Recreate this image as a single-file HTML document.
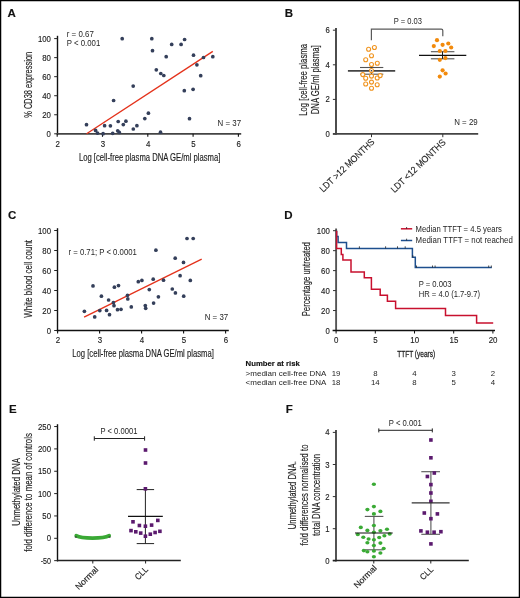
<!DOCTYPE html>
<html><head><meta charset="utf-8"><style>
html,body{margin:0;padding:0;background:#fff;}
#fig{display:block;width:520px;height:598px;will-change:transform;}
text{font-family:"Liberation Sans",sans-serif;stroke:#1e1e1e;stroke-width:0.15px;}
text.n{stroke:none;}
text.m{stroke-width:0.3px;}
</style></head><body>
<svg id="fig" width="520" height="598" viewBox="0 0 520 598">
<rect x="0" y="0" width="520" height="598" fill="#fff"/>
<rect x="0.6" y="0.6" width="518.8" height="596.8" fill="none" stroke="#000" stroke-width="1.3"/>
<text x="7.60" y="17.10" font-size="11.5" font-weight="bold" fill="#111">A</text>
<text x="284.80" y="17.30" font-size="11.5" font-weight="bold" fill="#111">B</text>
<text x="8.00" y="219.20" font-size="11.5" font-weight="bold" fill="#111">C</text>
<text x="284.30" y="219.20" font-size="11.5" font-weight="bold" fill="#111">D</text>
<text x="8.90" y="412.70" font-size="11.5" font-weight="bold" fill="#111">E</text>
<text x="285.70" y="412.70" font-size="11.5" font-weight="bold" fill="#111">F</text>
<line x1="57.50" y1="35.80" x2="57.50" y2="134.60" stroke="#111" stroke-width="1.4"/>
<line x1="54.20" y1="133.80" x2="57.50" y2="133.80" stroke="#222" stroke-width="1"/>
<text x="50.90" y="136.80" font-size="9.1" textLength="4.30" lengthAdjust="spacingAndGlyphs" text-anchor="end" fill="#1e1e1e">0</text>
<line x1="54.20" y1="114.76" x2="57.50" y2="114.76" stroke="#222" stroke-width="1"/>
<text x="50.90" y="117.76" font-size="9.1" textLength="8.70" lengthAdjust="spacingAndGlyphs" text-anchor="end" fill="#1e1e1e">20</text>
<line x1="54.20" y1="95.72" x2="57.50" y2="95.72" stroke="#222" stroke-width="1"/>
<text x="50.90" y="98.72" font-size="9.1" textLength="8.70" lengthAdjust="spacingAndGlyphs" text-anchor="end" fill="#1e1e1e">40</text>
<line x1="54.20" y1="76.68" x2="57.50" y2="76.68" stroke="#222" stroke-width="1"/>
<text x="50.90" y="79.68" font-size="9.1" textLength="8.70" lengthAdjust="spacingAndGlyphs" text-anchor="end" fill="#1e1e1e">60</text>
<line x1="54.20" y1="57.64" x2="57.50" y2="57.64" stroke="#222" stroke-width="1"/>
<text x="50.90" y="60.64" font-size="9.1" textLength="8.70" lengthAdjust="spacingAndGlyphs" text-anchor="end" fill="#1e1e1e">80</text>
<line x1="54.20" y1="38.60" x2="57.50" y2="38.60" stroke="#222" stroke-width="1"/>
<text x="50.90" y="41.60" font-size="9.1" textLength="13.00" lengthAdjust="spacingAndGlyphs" text-anchor="end" fill="#1e1e1e">100</text>
<line x1="56.80" y1="133.80" x2="241.20" y2="133.80" stroke="#444" stroke-width="1.7"/>
<line x1="57.20" y1="133.80" x2="57.20" y2="136.80" stroke="#111" stroke-width="1.1"/>
<text x="57.60" y="147.40" font-size="9.1" textLength="4.40" lengthAdjust="spacingAndGlyphs" text-anchor="middle" fill="#1e1e1e">2</text>
<line x1="102.50" y1="133.80" x2="102.50" y2="136.80" stroke="#111" stroke-width="1.1"/>
<text x="102.90" y="147.40" font-size="9.1" textLength="4.40" lengthAdjust="spacingAndGlyphs" text-anchor="middle" fill="#1e1e1e">3</text>
<line x1="147.80" y1="133.80" x2="147.80" y2="136.80" stroke="#111" stroke-width="1.1"/>
<text x="148.20" y="147.40" font-size="9.1" textLength="4.40" lengthAdjust="spacingAndGlyphs" text-anchor="middle" fill="#1e1e1e">4</text>
<line x1="193.10" y1="133.80" x2="193.10" y2="136.80" stroke="#111" stroke-width="1.1"/>
<text x="193.50" y="147.40" font-size="9.1" textLength="4.40" lengthAdjust="spacingAndGlyphs" text-anchor="middle" fill="#1e1e1e">5</text>
<line x1="238.40" y1="133.80" x2="238.40" y2="136.80" stroke="#111" stroke-width="1.1"/>
<text x="238.80" y="147.40" font-size="9.1" textLength="4.40" lengthAdjust="spacingAndGlyphs" text-anchor="middle" fill="#1e1e1e">6</text>
<text x="78.90" y="160.70" font-size="10.2" textLength="141.50" lengthAdjust="spacingAndGlyphs" fill="#1e1e1e">Log [cell-free plasma DNA GE/ml plasma]</text>
<text x="0.00" y="0.00" font-size="10.8" textLength="66.00" lengthAdjust="spacingAndGlyphs" text-anchor="middle" fill="#1e1e1e" transform="translate(31.80,84.80) rotate(-90)">% CD38 expression</text>
<text x="66.80" y="36.60" font-size="8.6" class="n" textLength="27.00" lengthAdjust="spacingAndGlyphs" fill="#1e1e1e">r = 0.67</text>
<text x="66.80" y="45.90" font-size="8.6" class="n" textLength="33.50" lengthAdjust="spacingAndGlyphs" fill="#1e1e1e">P &lt; 0.001</text>
<text x="217.60" y="125.80" font-size="8.8" class="n" textLength="23.50" lengthAdjust="spacingAndGlyphs" fill="#1e1e1e">N = 37</text>
<line x1="86.60" y1="133.80" x2="212.80" y2="51.40" stroke="#e4321b" stroke-width="1.35"/>
<circle cx="122.20" cy="38.70" r="1.85" fill="#343f5a"/>
<circle cx="151.80" cy="38.70" r="1.85" fill="#343f5a"/>
<circle cx="184.60" cy="39.50" r="1.85" fill="#343f5a"/>
<circle cx="171.70" cy="44.40" r="1.85" fill="#343f5a"/>
<circle cx="181.10" cy="44.40" r="1.85" fill="#343f5a"/>
<circle cx="152.50" cy="50.70" r="1.85" fill="#343f5a"/>
<circle cx="166.20" cy="56.70" r="1.85" fill="#343f5a"/>
<circle cx="193.50" cy="55.20" r="1.85" fill="#343f5a"/>
<circle cx="196.90" cy="64.80" r="1.85" fill="#343f5a"/>
<circle cx="156.30" cy="69.80" r="1.85" fill="#343f5a"/>
<circle cx="160.80" cy="73.50" r="1.85" fill="#343f5a"/>
<circle cx="163.80" cy="75.50" r="1.85" fill="#343f5a"/>
<circle cx="133.20" cy="86.10" r="1.85" fill="#343f5a"/>
<circle cx="184.30" cy="90.70" r="1.85" fill="#343f5a"/>
<circle cx="193.10" cy="89.30" r="1.85" fill="#343f5a"/>
<circle cx="203.50" cy="57.50" r="1.85" fill="#343f5a"/>
<circle cx="212.80" cy="56.70" r="1.85" fill="#343f5a"/>
<circle cx="200.70" cy="75.70" r="1.85" fill="#343f5a"/>
<circle cx="189.50" cy="118.70" r="1.85" fill="#343f5a"/>
<circle cx="160.50" cy="132.20" r="1.85" fill="#343f5a"/>
<circle cx="144.80" cy="118.60" r="1.85" fill="#343f5a"/>
<circle cx="148.40" cy="113.20" r="1.85" fill="#343f5a"/>
<circle cx="86.50" cy="124.70" r="1.85" fill="#343f5a"/>
<circle cx="113.60" cy="100.50" r="1.85" fill="#343f5a"/>
<circle cx="95.60" cy="130.40" r="1.85" fill="#343f5a"/>
<circle cx="97.50" cy="133.10" r="1.85" fill="#343f5a"/>
<circle cx="103.10" cy="133.70" r="1.85" fill="#343f5a"/>
<circle cx="104.60" cy="125.70" r="1.85" fill="#343f5a"/>
<circle cx="110.40" cy="125.80" r="1.85" fill="#343f5a"/>
<circle cx="112.70" cy="133.30" r="1.85" fill="#343f5a"/>
<circle cx="117.70" cy="130.80" r="1.85" fill="#343f5a"/>
<circle cx="119.30" cy="132.40" r="1.85" fill="#343f5a"/>
<circle cx="118.20" cy="121.50" r="1.85" fill="#343f5a"/>
<circle cx="123.30" cy="124.60" r="1.85" fill="#343f5a"/>
<circle cx="125.90" cy="121.20" r="1.85" fill="#343f5a"/>
<circle cx="133.30" cy="129.00" r="1.85" fill="#343f5a"/>
<circle cx="136.90" cy="125.70" r="1.85" fill="#343f5a"/>
<line x1="336.00" y1="27.90" x2="336.00" y2="134.70" stroke="#444" stroke-width="1.9"/>
<line x1="332.90" y1="134.00" x2="335.80" y2="134.00" stroke="#333" stroke-width="1"/>
<text x="329.80" y="137.00" font-size="9.1" textLength="4.30" lengthAdjust="spacingAndGlyphs" text-anchor="end" fill="#1e1e1e">0</text>
<line x1="332.90" y1="99.40" x2="335.80" y2="99.40" stroke="#333" stroke-width="1"/>
<text x="329.80" y="102.40" font-size="9.1" textLength="4.30" lengthAdjust="spacingAndGlyphs" text-anchor="end" fill="#1e1e1e">2</text>
<line x1="332.90" y1="64.80" x2="335.80" y2="64.80" stroke="#333" stroke-width="1"/>
<text x="329.80" y="67.80" font-size="9.1" textLength="4.30" lengthAdjust="spacingAndGlyphs" text-anchor="end" fill="#1e1e1e">4</text>
<line x1="332.90" y1="30.20" x2="335.80" y2="30.20" stroke="#333" stroke-width="1"/>
<text x="329.80" y="33.20" font-size="9.1" textLength="4.30" lengthAdjust="spacingAndGlyphs" text-anchor="end" fill="#1e1e1e">6</text>
<line x1="332.90" y1="133.90" x2="478.20" y2="133.90" stroke="#444" stroke-width="1.7"/>
<line x1="371.50" y1="134.00" x2="371.50" y2="137.20" stroke="#333" stroke-width="1"/>
<line x1="442.80" y1="134.00" x2="442.80" y2="137.20" stroke="#333" stroke-width="1"/>
<path d="M371.4,40.2 V29.1 H441.3 Q442.8,29.1 442.8,30.6 V36.2" fill="none" stroke="#5a5a5a" stroke-width="1.2"/>
<text x="393.80" y="23.70" font-size="8.5" class="n" textLength="28.20" lengthAdjust="spacingAndGlyphs" fill="#1e1e1e">P = 0.03</text>
<line x1="360.00" y1="67.50" x2="383.30" y2="67.50" stroke="#555" stroke-width="1.1"/>
<line x1="360.00" y1="74.20" x2="383.30" y2="74.20" stroke="#555" stroke-width="1.1"/>
<line x1="371.50" y1="67.50" x2="371.50" y2="74.20" stroke="#333" stroke-width="1"/>
<circle cx="368.60" cy="49.20" r="2.0" fill="#fff" stroke="#f0941f" stroke-width="1.1"/>
<circle cx="374.40" cy="47.50" r="2.0" fill="#fff" stroke="#f0941f" stroke-width="1.1"/>
<circle cx="371.50" cy="55.80" r="2.0" fill="#fff" stroke="#f0941f" stroke-width="1.1"/>
<circle cx="365.70" cy="59.80" r="2.0" fill="#fff" stroke="#f0941f" stroke-width="1.1"/>
<circle cx="371.50" cy="64.50" r="2.0" fill="#fff" stroke="#f0941f" stroke-width="1.1"/>
<circle cx="377.30" cy="63.20" r="2.0" fill="#fff" stroke="#f0941f" stroke-width="1.1"/>
<circle cx="362.80" cy="74.60" r="2.0" fill="#fff" stroke="#f0941f" stroke-width="1.1"/>
<circle cx="365.70" cy="78.30" r="2.0" fill="#fff" stroke="#f0941f" stroke-width="1.1"/>
<circle cx="371.50" cy="76.10" r="2.0" fill="#fff" stroke="#f0941f" stroke-width="1.1"/>
<circle cx="377.20" cy="78.00" r="2.0" fill="#fff" stroke="#f0941f" stroke-width="1.1"/>
<circle cx="380.20" cy="75.60" r="2.0" fill="#fff" stroke="#f0941f" stroke-width="1.1"/>
<circle cx="371.50" cy="82.10" r="2.0" fill="#fff" stroke="#f0941f" stroke-width="1.1"/>
<circle cx="365.70" cy="84.00" r="2.0" fill="#fff" stroke="#f0941f" stroke-width="1.1"/>
<circle cx="377.20" cy="84.80" r="2.0" fill="#fff" stroke="#f0941f" stroke-width="1.1"/>
<circle cx="371.50" cy="88.30" r="2.0" fill="#fff" stroke="#f0941f" stroke-width="1.1"/>
<line x1="347.90" y1="70.90" x2="395.20" y2="70.90" stroke="#444" stroke-width="1.7"/>
<circle cx="371.50" cy="70.50" r="2.0" fill="#fff" stroke="#f0941f" stroke-width="1.1"/>
<circle cx="371.50" cy="70.70" r="0.8" fill="#333"/>
<line x1="430.90" y1="51.70" x2="454.40" y2="51.70" stroke="#555" stroke-width="1.1"/>
<line x1="430.90" y1="58.80" x2="454.40" y2="58.80" stroke="#555" stroke-width="1.1"/>
<circle cx="437.00" cy="40.20" r="2.1" fill="#f28a0c"/>
<circle cx="433.80" cy="46.10" r="2.1" fill="#f28a0c"/>
<circle cx="442.60" cy="44.80" r="2.1" fill="#f28a0c"/>
<circle cx="448.30" cy="43.50" r="2.1" fill="#f28a0c"/>
<circle cx="451.20" cy="47.50" r="2.1" fill="#f28a0c"/>
<circle cx="439.80" cy="51.00" r="2.1" fill="#f28a0c"/>
<circle cx="445.40" cy="51.00" r="2.1" fill="#f28a0c"/>
<circle cx="445.40" cy="58.10" r="2.1" fill="#f28a0c"/>
<circle cx="439.80" cy="59.80" r="2.1" fill="#f28a0c"/>
<circle cx="442.60" cy="70.30" r="2.1" fill="#f28a0c"/>
<circle cx="445.60" cy="73.50" r="2.1" fill="#f28a0c"/>
<circle cx="439.80" cy="76.60" r="2.1" fill="#f28a0c"/>
<line x1="442.50" y1="51.70" x2="442.50" y2="58.80" stroke="#222" stroke-width="1"/>
<line x1="419.00" y1="55.30" x2="466.30" y2="55.30" stroke="#111" stroke-width="1.2"/>
<text x="454.20" y="125.20" font-size="8.8" class="n" textLength="23.50" lengthAdjust="spacingAndGlyphs" fill="#1e1e1e">N = 29</text>
<text x="0.00" y="0.00" font-size="10.2" textLength="71.80" lengthAdjust="spacingAndGlyphs" text-anchor="middle" fill="#1e1e1e" transform="translate(307.00,79.90) rotate(-90)">Log [cell-free plasma</text>
<text x="0.00" y="0.00" font-size="10.2" textLength="68.90" lengthAdjust="spacingAndGlyphs" text-anchor="middle" fill="#1e1e1e" transform="translate(318.70,79.80) rotate(-90)">DNA GE/ml plasma]</text>
<text x="0.00" y="0.00" font-size="9.4" textLength="72.30" lengthAdjust="spacingAndGlyphs" text-anchor="end" fill="#1e1e1e" transform="translate(375.2,142.6) rotate(-44)">LDT &gt;12 MONTHS</text>
<text x="0.00" y="0.00" font-size="9.4" textLength="72.30" lengthAdjust="spacingAndGlyphs" text-anchor="end" fill="#1e1e1e" transform="translate(446.4,143.0) rotate(-44)">LDT &lt;12 MONTHS</text>
<line x1="57.50" y1="228.20" x2="57.50" y2="331.30" stroke="#111" stroke-width="1.4"/>
<line x1="54.20" y1="330.50" x2="57.50" y2="330.50" stroke="#222" stroke-width="1"/>
<text x="51.00" y="333.50" font-size="9.1" textLength="4.30" lengthAdjust="spacingAndGlyphs" text-anchor="end" fill="#1e1e1e">0</text>
<line x1="54.20" y1="310.50" x2="57.50" y2="310.50" stroke="#222" stroke-width="1"/>
<text x="51.00" y="313.50" font-size="9.1" textLength="8.70" lengthAdjust="spacingAndGlyphs" text-anchor="end" fill="#1e1e1e">20</text>
<line x1="54.20" y1="290.50" x2="57.50" y2="290.50" stroke="#222" stroke-width="1"/>
<text x="51.00" y="293.50" font-size="9.1" textLength="8.70" lengthAdjust="spacingAndGlyphs" text-anchor="end" fill="#1e1e1e">40</text>
<line x1="54.20" y1="270.50" x2="57.50" y2="270.50" stroke="#222" stroke-width="1"/>
<text x="51.00" y="273.50" font-size="9.1" textLength="8.70" lengthAdjust="spacingAndGlyphs" text-anchor="end" fill="#1e1e1e">60</text>
<line x1="54.20" y1="250.50" x2="57.50" y2="250.50" stroke="#222" stroke-width="1"/>
<text x="51.00" y="253.50" font-size="9.1" textLength="8.70" lengthAdjust="spacingAndGlyphs" text-anchor="end" fill="#1e1e1e">80</text>
<line x1="54.20" y1="230.50" x2="57.50" y2="230.50" stroke="#222" stroke-width="1"/>
<text x="51.00" y="233.50" font-size="9.1" textLength="13.00" lengthAdjust="spacingAndGlyphs" text-anchor="end" fill="#1e1e1e">100</text>
<line x1="56.80" y1="330.50" x2="228.80" y2="330.50" stroke="#111" stroke-width="1.5"/>
<line x1="57.60" y1="330.50" x2="57.60" y2="333.60" stroke="#111" stroke-width="1.1"/>
<text x="57.90" y="343.30" font-size="9.3" textLength="4.40" lengthAdjust="spacingAndGlyphs" text-anchor="middle" fill="#1e1e1e">2</text>
<line x1="99.60" y1="330.50" x2="99.60" y2="333.60" stroke="#111" stroke-width="1.1"/>
<text x="99.90" y="343.30" font-size="9.3" textLength="4.40" lengthAdjust="spacingAndGlyphs" text-anchor="middle" fill="#1e1e1e">3</text>
<line x1="141.60" y1="330.50" x2="141.60" y2="333.60" stroke="#111" stroke-width="1.1"/>
<text x="141.90" y="343.30" font-size="9.3" textLength="4.40" lengthAdjust="spacingAndGlyphs" text-anchor="middle" fill="#1e1e1e">4</text>
<line x1="183.60" y1="330.50" x2="183.60" y2="333.60" stroke="#111" stroke-width="1.1"/>
<text x="183.90" y="343.30" font-size="9.3" textLength="4.40" lengthAdjust="spacingAndGlyphs" text-anchor="middle" fill="#1e1e1e">5</text>
<line x1="225.60" y1="330.50" x2="225.60" y2="333.60" stroke="#111" stroke-width="1.1"/>
<text x="225.90" y="343.30" font-size="9.3" textLength="4.40" lengthAdjust="spacingAndGlyphs" text-anchor="middle" fill="#1e1e1e">6</text>
<text x="72.30" y="357.20" font-size="10.3" textLength="141.50" lengthAdjust="spacingAndGlyphs" fill="#1e1e1e">Log [cell-free plasma DNA GE/ml plasma]</text>
<text x="0.00" y="0.00" font-size="11.1" textLength="77.70" lengthAdjust="spacingAndGlyphs" text-anchor="middle" fill="#1e1e1e" transform="translate(32.10,278.80) rotate(-90)">White blood cell count</text>
<text x="68.50" y="254.80" font-size="8.6" class="n" textLength="68.30" lengthAdjust="spacingAndGlyphs" fill="#1e1e1e">r = 0.71; P &lt; 0.0001</text>
<text x="204.70" y="319.80" font-size="8.8" class="n" textLength="23.50" lengthAdjust="spacingAndGlyphs" fill="#1e1e1e">N = 37</text>
<line x1="84.10" y1="317.20" x2="201.70" y2="259.10" stroke="#e4321b" stroke-width="1.3"/>
<circle cx="84.40" cy="311.30" r="1.85" fill="#343f5a"/>
<circle cx="93.00" cy="285.90" r="1.85" fill="#343f5a"/>
<circle cx="94.70" cy="316.90" r="1.85" fill="#343f5a"/>
<circle cx="99.80" cy="310.60" r="1.85" fill="#343f5a"/>
<circle cx="101.40" cy="296.20" r="1.85" fill="#343f5a"/>
<circle cx="106.60" cy="310.40" r="1.85" fill="#343f5a"/>
<circle cx="108.60" cy="300.00" r="1.85" fill="#343f5a"/>
<circle cx="109.50" cy="314.70" r="1.85" fill="#343f5a"/>
<circle cx="113.40" cy="302.60" r="1.85" fill="#343f5a"/>
<circle cx="114.00" cy="305.70" r="1.85" fill="#343f5a"/>
<circle cx="114.40" cy="287.20" r="1.85" fill="#343f5a"/>
<circle cx="118.50" cy="285.60" r="1.85" fill="#343f5a"/>
<circle cx="117.50" cy="309.70" r="1.85" fill="#343f5a"/>
<circle cx="121.00" cy="309.30" r="1.85" fill="#343f5a"/>
<circle cx="127.50" cy="295.30" r="1.85" fill="#343f5a"/>
<circle cx="127.80" cy="298.90" r="1.85" fill="#343f5a"/>
<circle cx="131.30" cy="306.90" r="1.85" fill="#343f5a"/>
<circle cx="138.30" cy="281.70" r="1.85" fill="#343f5a"/>
<circle cx="141.90" cy="280.40" r="1.85" fill="#343f5a"/>
<circle cx="187.00" cy="238.50" r="1.85" fill="#343f5a"/>
<circle cx="193.20" cy="238.50" r="1.85" fill="#343f5a"/>
<circle cx="155.90" cy="250.20" r="1.85" fill="#343f5a"/>
<circle cx="175.20" cy="258.20" r="1.85" fill="#343f5a"/>
<circle cx="183.50" cy="262.40" r="1.85" fill="#343f5a"/>
<circle cx="153.20" cy="279.20" r="1.85" fill="#343f5a"/>
<circle cx="163.50" cy="280.20" r="1.85" fill="#343f5a"/>
<circle cx="180.10" cy="275.70" r="1.85" fill="#343f5a"/>
<circle cx="190.30" cy="280.40" r="1.85" fill="#343f5a"/>
<circle cx="149.30" cy="289.60" r="1.85" fill="#343f5a"/>
<circle cx="172.30" cy="289.00" r="1.85" fill="#343f5a"/>
<circle cx="175.40" cy="292.90" r="1.85" fill="#343f5a"/>
<circle cx="183.70" cy="296.20" r="1.85" fill="#343f5a"/>
<circle cx="158.40" cy="296.80" r="1.85" fill="#343f5a"/>
<circle cx="153.60" cy="303.10" r="1.85" fill="#343f5a"/>
<circle cx="145.30" cy="305.50" r="1.85" fill="#343f5a"/>
<circle cx="145.70" cy="308.30" r="1.85" fill="#343f5a"/>
<line x1="336.10" y1="228.50" x2="336.10" y2="331.20" stroke="#555" stroke-width="1.9"/>
<line x1="333.00" y1="330.50" x2="336.10" y2="330.50" stroke="#333" stroke-width="1"/>
<text x="329.80" y="333.50" font-size="9.1" textLength="4.30" lengthAdjust="spacingAndGlyphs" text-anchor="end" fill="#1e1e1e">0</text>
<line x1="333.00" y1="310.54" x2="336.10" y2="310.54" stroke="#333" stroke-width="1"/>
<text x="329.80" y="313.54" font-size="9.1" textLength="8.70" lengthAdjust="spacingAndGlyphs" text-anchor="end" fill="#1e1e1e">20</text>
<line x1="333.00" y1="290.58" x2="336.10" y2="290.58" stroke="#333" stroke-width="1"/>
<text x="329.80" y="293.58" font-size="9.1" textLength="8.70" lengthAdjust="spacingAndGlyphs" text-anchor="end" fill="#1e1e1e">40</text>
<line x1="333.00" y1="270.62" x2="336.10" y2="270.62" stroke="#333" stroke-width="1"/>
<text x="329.80" y="273.62" font-size="9.1" textLength="8.70" lengthAdjust="spacingAndGlyphs" text-anchor="end" fill="#1e1e1e">60</text>
<line x1="333.00" y1="250.66" x2="336.10" y2="250.66" stroke="#333" stroke-width="1"/>
<text x="329.80" y="253.66" font-size="9.1" textLength="8.70" lengthAdjust="spacingAndGlyphs" text-anchor="end" fill="#1e1e1e">80</text>
<line x1="333.00" y1="230.70" x2="336.10" y2="230.70" stroke="#333" stroke-width="1"/>
<text x="329.80" y="233.70" font-size="9.1" textLength="13.00" lengthAdjust="spacingAndGlyphs" text-anchor="end" fill="#1e1e1e">100</text>
<line x1="332.60" y1="330.50" x2="495.00" y2="330.50" stroke="#111" stroke-width="1.3"/>
<line x1="336.10" y1="330.50" x2="336.10" y2="333.50" stroke="#111" stroke-width="1"/>
<text x="336.30" y="343.10" font-size="9.3" textLength="4.40" lengthAdjust="spacingAndGlyphs" text-anchor="middle" fill="#1e1e1e">0</text>
<line x1="375.30" y1="330.50" x2="375.30" y2="333.50" stroke="#111" stroke-width="1"/>
<text x="375.50" y="343.10" font-size="9.3" textLength="4.40" lengthAdjust="spacingAndGlyphs" text-anchor="middle" fill="#1e1e1e">5</text>
<line x1="414.50" y1="330.50" x2="414.50" y2="333.50" stroke="#111" stroke-width="1"/>
<text x="414.70" y="343.10" font-size="9.3" textLength="8.80" lengthAdjust="spacingAndGlyphs" text-anchor="middle" fill="#1e1e1e">10</text>
<line x1="453.70" y1="330.50" x2="453.70" y2="333.50" stroke="#111" stroke-width="1"/>
<text x="453.90" y="343.10" font-size="9.3" textLength="8.80" lengthAdjust="spacingAndGlyphs" text-anchor="middle" fill="#1e1e1e">15</text>
<line x1="492.90" y1="330.50" x2="492.90" y2="333.50" stroke="#111" stroke-width="1"/>
<text x="493.10" y="343.10" font-size="9.3" textLength="8.80" lengthAdjust="spacingAndGlyphs" text-anchor="middle" fill="#1e1e1e">20</text>
<text x="397.20" y="357.40" font-size="9.8" class="m" textLength="38.00" lengthAdjust="spacingAndGlyphs" fill="#1e1e1e">TTFT (years)</text>
<text x="0.00" y="0.00" font-size="10.3" textLength="74.40" lengthAdjust="spacingAndGlyphs" text-anchor="middle" fill="#1e1e1e" transform="translate(310.00,279.10) rotate(-90)">Percentage untreated</text>
<path d="M336.6,230.8 V236.5 H338.1 V242.5 H346.5 V248.4 H412.4 V257.3 H415.3 V267.5 H491.8" fill="none" stroke="#1d4f8e" stroke-width="1.5"/>
<path d="M336.6,230.8 V248.4 H341.3 V254.4 H342.9 V259.9 H351.0 V271.9 H364.3 V277.7 H371.4 V289.3 H380.2 V295.3 H387.4 V301.2 H395.6 V308.6 H445.5 V315.6 H476.6 V322.9 H493.2" fill="none" stroke="#c8102e" stroke-width="1.5"/>
<line x1="359.40" y1="248.40" x2="359.40" y2="246.30" stroke="#222" stroke-width="0.8"/>
<line x1="385.60" y1="248.40" x2="385.60" y2="246.30" stroke="#222" stroke-width="0.8"/>
<line x1="397.50" y1="248.40" x2="397.50" y2="246.30" stroke="#222" stroke-width="0.8"/>
<line x1="405.20" y1="248.40" x2="405.20" y2="246.30" stroke="#222" stroke-width="0.8"/>
<line x1="412.80" y1="257.30" x2="412.80" y2="255.30" stroke="#222" stroke-width="0.8"/>
<line x1="416.50" y1="267.50" x2="416.50" y2="265.50" stroke="#222" stroke-width="0.8"/>
<line x1="432.50" y1="267.50" x2="432.50" y2="265.50" stroke="#222" stroke-width="0.8"/>
<line x1="435.10" y1="267.50" x2="435.10" y2="265.50" stroke="#222" stroke-width="0.8"/>
<line x1="488.70" y1="267.50" x2="488.70" y2="265.50" stroke="#222" stroke-width="0.8"/>
<line x1="491.30" y1="267.50" x2="491.30" y2="265.50" stroke="#222" stroke-width="0.8"/>
<line x1="400.90" y1="228.80" x2="412.20" y2="228.80" stroke="#c8102e" stroke-width="1.5"/>
<line x1="406.60" y1="228.80" x2="406.60" y2="227.00" stroke="#222" stroke-width="0.8"/>
<line x1="400.90" y1="240.50" x2="412.20" y2="240.50" stroke="#1d4f8e" stroke-width="1.5"/>
<line x1="406.60" y1="240.50" x2="406.60" y2="238.70" stroke="#222" stroke-width="0.8"/>
<text x="415.60" y="231.50" font-size="8.3" class="n" textLength="86.30" lengthAdjust="spacingAndGlyphs" fill="#1e1e1e">Median TTFT = 4.5 years</text>
<text x="415.60" y="243.20" font-size="8.3" class="n" textLength="97.20" lengthAdjust="spacingAndGlyphs" fill="#1e1e1e">Median TTFT = not reached</text>
<text x="418.70" y="287.20" font-size="8.5" class="n" textLength="32.80" lengthAdjust="spacingAndGlyphs" fill="#1e1e1e">P = 0.003</text>
<text x="418.70" y="297.00" font-size="8.5" class="n" textLength="61.30" lengthAdjust="spacingAndGlyphs" fill="#1e1e1e">HR = 4.0 (1.7-9.7)</text>
<text x="245.60" y="366.40" font-size="7.8" textLength="54.30" lengthAdjust="spacingAndGlyphs" font-weight="bold" fill="#111">Number at risk</text>
<text x="245.60" y="375.90" font-size="7.8" class="n" textLength="80.70" lengthAdjust="spacingAndGlyphs" fill="#1e1e1e">&gt;median cell-free DNA</text>
<text x="245.60" y="384.90" font-size="7.8" class="n" textLength="80.70" lengthAdjust="spacingAndGlyphs" fill="#1e1e1e">&lt;median cell-free DNA</text>
<text x="336.10" y="375.90" font-size="7.8" class="n" text-anchor="middle" fill="#1e1e1e">19</text>
<text x="336.10" y="384.90" font-size="7.8" class="n" text-anchor="middle" fill="#1e1e1e">18</text>
<text x="375.30" y="375.90" font-size="7.8" class="n" text-anchor="middle" fill="#1e1e1e">8</text>
<text x="375.30" y="384.90" font-size="7.8" class="n" text-anchor="middle" fill="#1e1e1e">14</text>
<text x="414.50" y="375.90" font-size="7.8" class="n" text-anchor="middle" fill="#1e1e1e">4</text>
<text x="414.50" y="384.90" font-size="7.8" class="n" text-anchor="middle" fill="#1e1e1e">8</text>
<text x="453.70" y="375.90" font-size="7.8" class="n" text-anchor="middle" fill="#1e1e1e">3</text>
<text x="453.70" y="384.90" font-size="7.8" class="n" text-anchor="middle" fill="#1e1e1e">5</text>
<text x="492.90" y="375.90" font-size="7.8" class="n" text-anchor="middle" fill="#1e1e1e">2</text>
<text x="492.90" y="384.90" font-size="7.8" class="n" text-anchor="middle" fill="#1e1e1e">4</text>
<line x1="57.50" y1="424.20" x2="57.50" y2="561.40" stroke="#111" stroke-width="1.4"/>
<line x1="54.20" y1="560.65" x2="57.50" y2="560.65" stroke="#222" stroke-width="1"/>
<text x="51.00" y="563.65" font-size="9.1" textLength="10.30" lengthAdjust="spacingAndGlyphs" text-anchor="end" fill="#1e1e1e">-50</text>
<line x1="54.20" y1="538.30" x2="57.50" y2="538.30" stroke="#222" stroke-width="1"/>
<text x="51.00" y="541.30" font-size="9.1" textLength="4.30" lengthAdjust="spacingAndGlyphs" text-anchor="end" fill="#1e1e1e">0</text>
<line x1="54.20" y1="515.95" x2="57.50" y2="515.95" stroke="#222" stroke-width="1"/>
<text x="51.00" y="518.95" font-size="9.1" textLength="8.70" lengthAdjust="spacingAndGlyphs" text-anchor="end" fill="#1e1e1e">50</text>
<line x1="54.20" y1="493.60" x2="57.50" y2="493.60" stroke="#222" stroke-width="1"/>
<text x="51.00" y="496.60" font-size="9.1" textLength="13.00" lengthAdjust="spacingAndGlyphs" text-anchor="end" fill="#1e1e1e">100</text>
<line x1="54.20" y1="471.25" x2="57.50" y2="471.25" stroke="#222" stroke-width="1"/>
<text x="51.00" y="474.25" font-size="9.1" textLength="13.00" lengthAdjust="spacingAndGlyphs" text-anchor="end" fill="#1e1e1e">150</text>
<line x1="54.20" y1="448.90" x2="57.50" y2="448.90" stroke="#222" stroke-width="1"/>
<text x="51.00" y="451.90" font-size="9.1" textLength="13.00" lengthAdjust="spacingAndGlyphs" text-anchor="end" fill="#1e1e1e">200</text>
<line x1="54.20" y1="426.55" x2="57.50" y2="426.55" stroke="#222" stroke-width="1"/>
<text x="51.00" y="429.55" font-size="9.1" textLength="13.00" lengthAdjust="spacingAndGlyphs" text-anchor="end" fill="#1e1e1e">250</text>
<line x1="57.00" y1="560.60" x2="180.80" y2="560.60" stroke="#222" stroke-width="1.5"/>
<line x1="92.80" y1="560.60" x2="92.80" y2="563.50" stroke="#222" stroke-width="1"/>
<line x1="145.60" y1="560.60" x2="145.60" y2="563.50" stroke="#222" stroke-width="1"/>
<line x1="94.30" y1="438.50" x2="144.60" y2="438.50" stroke="#222" stroke-width="1"/>
<line x1="94.30" y1="436.30" x2="94.30" y2="440.70" stroke="#222" stroke-width="1"/>
<line x1="144.60" y1="436.30" x2="144.60" y2="440.70" stroke="#222" stroke-width="1"/>
<text x="100.50" y="433.90" font-size="8.6" class="n" textLength="36.90" lengthAdjust="spacingAndGlyphs" fill="#1e1e1e">P &lt; 0.0001</text>
<line x1="145.40" y1="489.60" x2="145.40" y2="543.60" stroke="#222" stroke-width="1"/>
<line x1="136.70" y1="489.60" x2="154.10" y2="489.60" stroke="#222" stroke-width="1"/>
<line x1="136.70" y1="543.60" x2="154.10" y2="543.60" stroke="#222" stroke-width="1"/>
<line x1="128.00" y1="516.40" x2="162.80" y2="516.40" stroke="#111" stroke-width="1.3"/>
<rect x="143.70" y="448.20" width="3.6" height="3.6" fill="#5b1a6e"/>
<rect x="143.70" y="461.20" width="3.6" height="3.6" fill="#5b1a6e"/>
<rect x="143.60" y="487.00" width="3.6" height="3.6" fill="#5b1a6e"/>
<rect x="131.20" y="520.00" width="3.6" height="3.6" fill="#5b1a6e"/>
<rect x="156.00" y="518.60" width="3.6" height="3.6" fill="#5b1a6e"/>
<rect x="137.60" y="523.70" width="3.6" height="3.6" fill="#5b1a6e"/>
<rect x="143.60" y="524.40" width="3.6" height="3.6" fill="#5b1a6e"/>
<rect x="149.80" y="523.30" width="3.6" height="3.6" fill="#5b1a6e"/>
<rect x="129.20" y="528.80" width="3.6" height="3.6" fill="#5b1a6e"/>
<rect x="134.00" y="530.00" width="3.6" height="3.6" fill="#5b1a6e"/>
<rect x="138.90" y="531.30" width="3.6" height="3.6" fill="#5b1a6e"/>
<rect x="143.60" y="534.40" width="3.6" height="3.6" fill="#5b1a6e"/>
<rect x="148.50" y="532.40" width="3.6" height="3.6" fill="#5b1a6e"/>
<rect x="153.30" y="530.70" width="3.6" height="3.6" fill="#5b1a6e"/>
<rect x="158.10" y="529.50" width="3.6" height="3.6" fill="#5b1a6e"/>
<path d="M76.2,535.7 C82,538.9 103,538.9 109.2,535.7" fill="none" stroke="#3aa935" stroke-width="3.7" stroke-linecap="round"/>
<line x1="74.80" y1="537.10" x2="76.80" y2="537.10" stroke="#222" stroke-width="1"/>
<line x1="108.60" y1="537.10" x2="110.60" y2="537.10" stroke="#222" stroke-width="1"/>
<text x="0.00" y="0.00" font-size="10.8" textLength="67.80" lengthAdjust="spacingAndGlyphs" text-anchor="middle" fill="#1e1e1e" transform="translate(19.90,491.90) rotate(-90)">Unmethylated DNA</text>
<text x="0.00" y="0.00" font-size="10.8" textLength="118.70" lengthAdjust="spacingAndGlyphs" text-anchor="middle" fill="#1e1e1e" transform="translate(31.90,492.40) rotate(-90)">fold difference to mean of controls</text>
<text x="0.00" y="0.00" font-size="8.6" textLength="28.50" lengthAdjust="spacingAndGlyphs" text-anchor="end" fill="#1e1e1e" transform="translate(98.9,570.1) rotate(-45)">Normal</text>
<text x="0.00" y="0.00" font-size="8.6" textLength="14.50" lengthAdjust="spacingAndGlyphs" text-anchor="end" fill="#1e1e1e" transform="translate(148.5,570.2) rotate(-45)">CLL</text>
<line x1="336.00" y1="430.00" x2="336.00" y2="561.40" stroke="#4a4a4a" stroke-width="1.9"/>
<line x1="332.80" y1="560.80" x2="336.00" y2="560.80" stroke="#333" stroke-width="1"/>
<text x="329.60" y="563.80" font-size="9.1" textLength="4.30" lengthAdjust="spacingAndGlyphs" text-anchor="end" fill="#1e1e1e">0</text>
<line x1="332.80" y1="528.70" x2="336.00" y2="528.70" stroke="#333" stroke-width="1"/>
<text x="329.60" y="531.70" font-size="9.1" textLength="4.30" lengthAdjust="spacingAndGlyphs" text-anchor="end" fill="#1e1e1e">1</text>
<line x1="332.80" y1="496.60" x2="336.00" y2="496.60" stroke="#333" stroke-width="1"/>
<text x="329.60" y="499.60" font-size="9.1" textLength="4.30" lengthAdjust="spacingAndGlyphs" text-anchor="end" fill="#1e1e1e">2</text>
<line x1="332.80" y1="464.50" x2="336.00" y2="464.50" stroke="#333" stroke-width="1"/>
<text x="329.60" y="467.50" font-size="9.1" textLength="4.30" lengthAdjust="spacingAndGlyphs" text-anchor="end" fill="#1e1e1e">3</text>
<line x1="332.80" y1="432.40" x2="336.00" y2="432.40" stroke="#333" stroke-width="1"/>
<text x="329.60" y="435.40" font-size="9.1" textLength="4.30" lengthAdjust="spacingAndGlyphs" text-anchor="end" fill="#1e1e1e">4</text>
<line x1="332.80" y1="560.60" x2="468.80" y2="560.60" stroke="#222" stroke-width="1.5"/>
<line x1="373.80" y1="560.60" x2="373.80" y2="563.50" stroke="#222" stroke-width="1"/>
<line x1="430.80" y1="560.60" x2="430.80" y2="563.50" stroke="#222" stroke-width="1"/>
<line x1="378.80" y1="430.30" x2="432.30" y2="430.30" stroke="#222" stroke-width="1"/>
<line x1="378.80" y1="428.40" x2="378.80" y2="432.40" stroke="#222" stroke-width="1"/>
<line x1="432.30" y1="428.40" x2="432.30" y2="432.40" stroke="#222" stroke-width="1"/>
<text x="388.80" y="425.70" font-size="8.6" class="n" textLength="32.90" lengthAdjust="spacingAndGlyphs" fill="#1e1e1e">P &lt; 0.001</text>
<line x1="373.90" y1="516.40" x2="373.90" y2="549.80" stroke="#555" stroke-width="1.1"/>
<line x1="364.80" y1="516.40" x2="383.40" y2="516.40" stroke="#555" stroke-width="1.1"/>
<line x1="364.80" y1="549.80" x2="383.40" y2="549.80" stroke="#555" stroke-width="1.1"/>
<ellipse cx="373.90" cy="484.30" rx="2.1" ry="1.8" fill="#3aaa35"/>
<ellipse cx="373.90" cy="506.60" rx="2.1" ry="1.8" fill="#3aaa35"/>
<ellipse cx="367.40" cy="509.60" rx="2.1" ry="1.8" fill="#3aaa35"/>
<ellipse cx="380.40" cy="511.40" rx="2.1" ry="1.8" fill="#3aaa35"/>
<ellipse cx="373.90" cy="513.90" rx="2.1" ry="1.8" fill="#3aaa35"/>
<ellipse cx="373.90" cy="525.50" rx="2.1" ry="1.8" fill="#3aaa35"/>
<ellipse cx="360.80" cy="527.40" rx="2.1" ry="1.8" fill="#3aaa35"/>
<ellipse cx="367.40" cy="530.40" rx="2.1" ry="1.8" fill="#3aaa35"/>
<ellipse cx="380.40" cy="530.70" rx="2.1" ry="1.8" fill="#3aaa35"/>
<ellipse cx="387.00" cy="529.20" rx="2.1" ry="1.8" fill="#3aaa35"/>
<ellipse cx="373.90" cy="532.20" rx="2.1" ry="1.8" fill="#3aaa35"/>
<ellipse cx="357.80" cy="534.50" rx="2.1" ry="1.8" fill="#3aaa35"/>
<ellipse cx="389.70" cy="534.00" rx="2.1" ry="1.8" fill="#3aaa35"/>
<ellipse cx="384.40" cy="535.70" rx="2.1" ry="1.8" fill="#3aaa35"/>
<ellipse cx="363.30" cy="537.20" rx="2.1" ry="1.8" fill="#3aaa35"/>
<ellipse cx="379.20" cy="537.50" rx="2.1" ry="1.8" fill="#3aaa35"/>
<ellipse cx="368.60" cy="539.00" rx="2.1" ry="1.8" fill="#3aaa35"/>
<ellipse cx="373.90" cy="539.80" rx="2.1" ry="1.8" fill="#3aaa35"/>
<ellipse cx="367.40" cy="542.80" rx="2.1" ry="1.8" fill="#3aaa35"/>
<ellipse cx="380.40" cy="543.10" rx="2.1" ry="1.8" fill="#3aaa35"/>
<ellipse cx="373.90" cy="545.50" rx="2.1" ry="1.8" fill="#3aaa35"/>
<ellipse cx="383.70" cy="548.50" rx="2.1" ry="1.8" fill="#3aaa35"/>
<ellipse cx="363.80" cy="550.60" rx="2.1" ry="1.8" fill="#3aaa35"/>
<ellipse cx="367.40" cy="551.80" rx="2.1" ry="1.8" fill="#3aaa35"/>
<ellipse cx="373.90" cy="551.00" rx="2.1" ry="1.8" fill="#3aaa35"/>
<ellipse cx="380.40" cy="553.00" rx="2.1" ry="1.8" fill="#3aaa35"/>
<ellipse cx="373.90" cy="556.80" rx="2.1" ry="1.8" fill="#3aaa35"/>
<line x1="355.00" y1="533.00" x2="392.70" y2="533.00" stroke="#111" stroke-width="1.2"/>
<line x1="430.90" y1="471.70" x2="430.90" y2="534.30" stroke="#555" stroke-width="1.1"/>
<line x1="421.30" y1="471.70" x2="440.00" y2="471.70" stroke="#555" stroke-width="1.1"/>
<line x1="421.30" y1="534.30" x2="440.00" y2="534.30" stroke="#555" stroke-width="1.1"/>
<rect x="429.10" y="438.20" width="3.6" height="3.6" fill="#5b1a6e"/>
<rect x="429.10" y="456.00" width="3.6" height="3.6" fill="#5b1a6e"/>
<rect x="432.50" y="471.20" width="3.6" height="3.6" fill="#5b1a6e"/>
<rect x="425.60" y="474.70" width="3.6" height="3.6" fill="#5b1a6e"/>
<rect x="429.10" y="482.80" width="3.6" height="3.6" fill="#5b1a6e"/>
<rect x="429.10" y="491.20" width="3.6" height="3.6" fill="#5b1a6e"/>
<rect x="429.10" y="499.50" width="3.6" height="3.6" fill="#5b1a6e"/>
<rect x="422.50" y="511.20" width="3.6" height="3.6" fill="#5b1a6e"/>
<rect x="435.60" y="512.10" width="3.6" height="3.6" fill="#5b1a6e"/>
<rect x="429.10" y="516.90" width="3.6" height="3.6" fill="#5b1a6e"/>
<rect x="419.10" y="529.10" width="3.6" height="3.6" fill="#5b1a6e"/>
<rect x="425.60" y="530.40" width="3.6" height="3.6" fill="#5b1a6e"/>
<rect x="432.30" y="530.40" width="3.6" height="3.6" fill="#5b1a6e"/>
<rect x="439.10" y="529.90" width="3.6" height="3.6" fill="#5b1a6e"/>
<rect x="429.10" y="542.10" width="3.6" height="3.6" fill="#5b1a6e"/>
<line x1="411.70" y1="502.80" x2="449.60" y2="502.80" stroke="#333" stroke-width="1.3"/>
<text x="0.00" y="0.00" font-size="10.3" textLength="68.00" lengthAdjust="spacingAndGlyphs" text-anchor="middle" fill="#1e1e1e" transform="translate(295.70,495.20) rotate(-90)">Unmethylated DNA.</text>
<text x="0.00" y="0.00" font-size="10.3" textLength="100.90" lengthAdjust="spacingAndGlyphs" text-anchor="middle" fill="#1e1e1e" transform="translate(307.50,495.00) rotate(-90)">fold differences normalised to</text>
<text x="0.00" y="0.00" font-size="10.3" textLength="82.00" lengthAdjust="spacingAndGlyphs" text-anchor="middle" fill="#1e1e1e" transform="translate(319.90,494.80) rotate(-90)">total DNA concentration</text>
<text x="0.00" y="0.00" font-size="8.6" textLength="28.50" lengthAdjust="spacingAndGlyphs" text-anchor="end" fill="#1e1e1e" transform="translate(377.4,568.6) rotate(-45)">Normal</text>
<text x="0.00" y="0.00" font-size="8.6" textLength="15.00" lengthAdjust="spacingAndGlyphs" text-anchor="end" fill="#1e1e1e" transform="translate(433.9,570.0) rotate(-45)">CLL</text>
</svg>
</body></html>
